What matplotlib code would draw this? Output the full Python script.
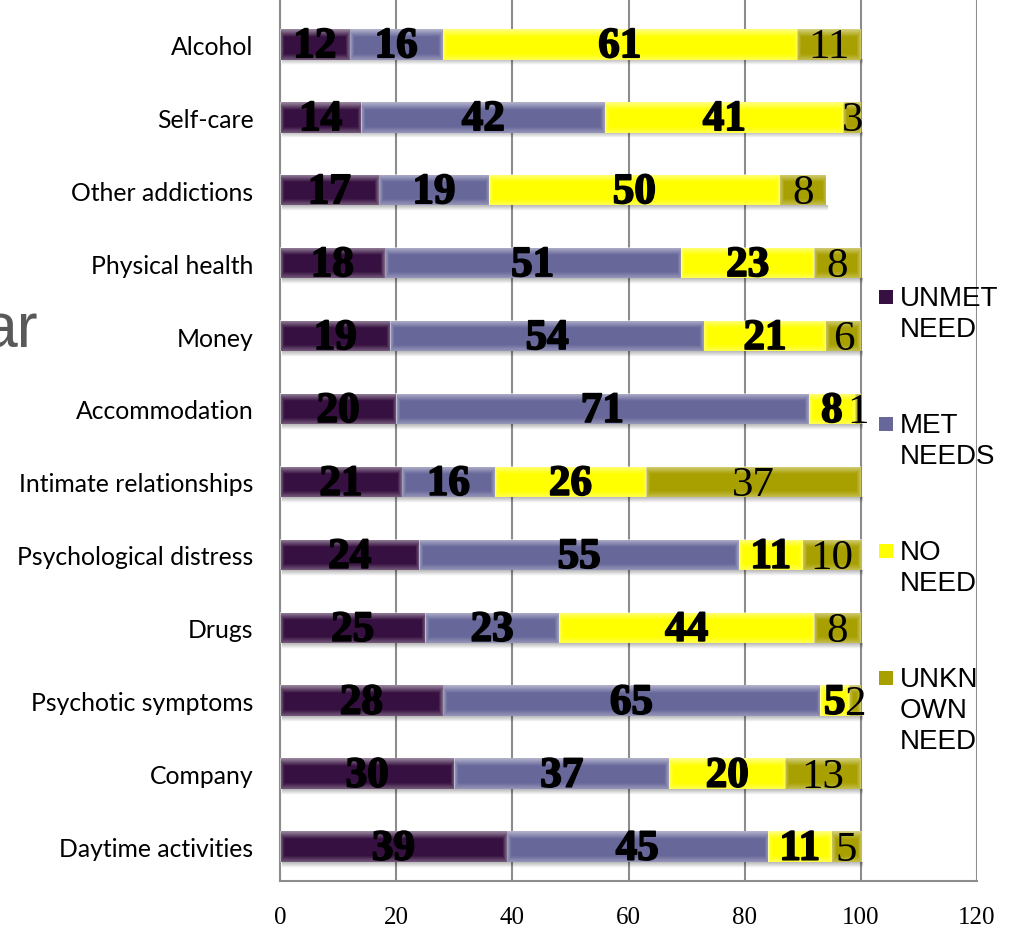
import numpy as np
import matplotlib
matplotlib.use("Agg")
import matplotlib.pyplot as plt
import matplotlib.patheffects as pe
from matplotlib.patches import Rectangle

# data (percent)
categories = ["Alcohol", "Self-care", "Other addictions", "Physical health", "Money",
              "Accommodation", "Intimate relationships", "Psychological distress", "Drugs",
              "Psychotic symptoms", "Company", "Daytime activities"]
unmet_need = [12, 14, 17, 18, 19, 20, 21, 24, 25, 28, 30, 39]
met_needs = [16, 42, 19, 51, 54, 71, 16, 55, 23, 65, 37, 45]
no_need = [61, 41, 50, 23, 21, 8, 26, 11, 44, 5, 20, 11]
unknown_need = [11, 3, 8, 8, 6, 1, 37, 10, 8, 2, 13, 5]
series_labels = ["UNMET\nNEED", "MET\nNEEDS", "NO\nNEED", "UNKN\nOWN\nNEED"]
x_ticks = [0, 20, 40, 60, 80, 100, 120]

colors = ["#361040", "#67679a", "#ffff00", "#a8a000"]
W, H = 1011, 929


def shade(ax, left, width, y, h):
    # soft light edges like the office "gradient" bars
    ny = 40
    nx = max(int(width * 6), 2)
    t = np.linspace(0, 1, ny)
    v = np.maximum(np.clip(1 - t / 0.25, 0, 1) * 0.5, np.clip((t - 0.8) / 0.2, 0, 1) * 0.3)
    s = np.linspace(0, width, nx)
    e = 0.7
    hz = np.maximum(np.clip(1 - s / e, 0, 1), np.clip(1 - (width - s) / e, 0, 1)) * 0.35
    a = np.maximum(v[:, None], hz[None, :])
    img = np.ones((ny, nx, 4))
    img[..., 3] = a
    ax.imshow(img, extent=(left, left + width, y + h / 2, y - h / 2), aspect="auto",
              interpolation="bilinear", zorder=3)


def shadow(ax, width, y, h):
    n = 20
    t = np.linspace(0, 1, n)
    img = np.zeros((n, 2, 4))
    img[..., 3] = 0.28 * (1 - t)[:, None]
    ax.imshow(img, extent=(0.3, width + 0.3, y + h / 2 + 0.08, y + h / 2), aspect="auto",
              interpolation="bilinear", zorder=1.5)


fig = plt.figure(figsize=(W / 100, H / 100), dpi=100)
ax = fig.add_axes([280 / W, 1 - 882 / H, (977 - 280) / W, 882 / H])

y = np.arange(len(categories))
bh = 0.42
series = [unmet_need, met_needs, no_need, unknown_need]
heavy = [pe.withStroke(linewidth=1.3, foreground="black")]
left = np.zeros(len(categories))
for k, vals in enumerate(series):
    vals = np.array(vals, dtype=float)
    ax.barh(y, vals, height=bh, left=left, color=colors[k], zorder=2)
    for i in range(len(categories)):
        shade(ax, left[i], vals[i], y[i], bh)
        ax.text(left[i] + vals[i] / 2, y[i] + 0.04, str(int(vals[i])), ha="center", va="center",
                fontfamily="Liberation Serif", fontweight="normal" if k == 3 else "bold",
                fontsize=31, color="black", zorder=5,
                path_effects=None if k == 3 else heavy)
    left += vals
for i in range(len(categories)):
    shadow(ax, left[i], y[i], bh)

ax.set_xlim(0, 120)
ax.set_ylim(11.47, -0.62)
ax.set_xticks(x_ticks)
ax.set_xticklabels([str(t) for t in x_ticks], fontfamily="Liberation Serif", fontsize=18)
ax.set_yticks(y)
ax.set_yticklabels(categories, fontfamily="Lato", fontsize=17.8)
ax.tick_params(axis="x", length=0, pad=18)
ax.tick_params(axis="y", length=0, pad=19)
ax.set_axisbelow(True)
ax.xaxis.grid(True, color="#8c8c8c", lw=1.5)
for side in ["top", "right"]:
    ax.spines[side].set_visible(False)
for side in ["left", "bottom"]:
    ax.spines[side].set_color("#8c8c8c")
    ax.spines[side].set_linewidth(1.5)

# legend drawn by hand so the marker sits on the first text line
for i, lab in enumerate(series_labels):
    base = 306 + 127 * i
    fig.add_artist(Rectangle((879 / W, 1 - (base - 1) / H), 14 / W, 14 / H,
                             transform=fig.transFigure, facecolor=colors[i], edgecolor="none"))
    for j, line in enumerate(lab.split("\n")):
        fig.text(900 / W, 1 - (base + 31 * j) / H, line, ha="left", va="baseline",
                 fontfamily="Liberation Sans", fontsize=20, color="black")

fig.text(38 / W, 1 - 347 / H, "ar", ha="right", va="baseline",
         fontfamily="Liberation Sans", fontsize=45, color="#595959")

fig.savefig("out.png", dpi=100)
